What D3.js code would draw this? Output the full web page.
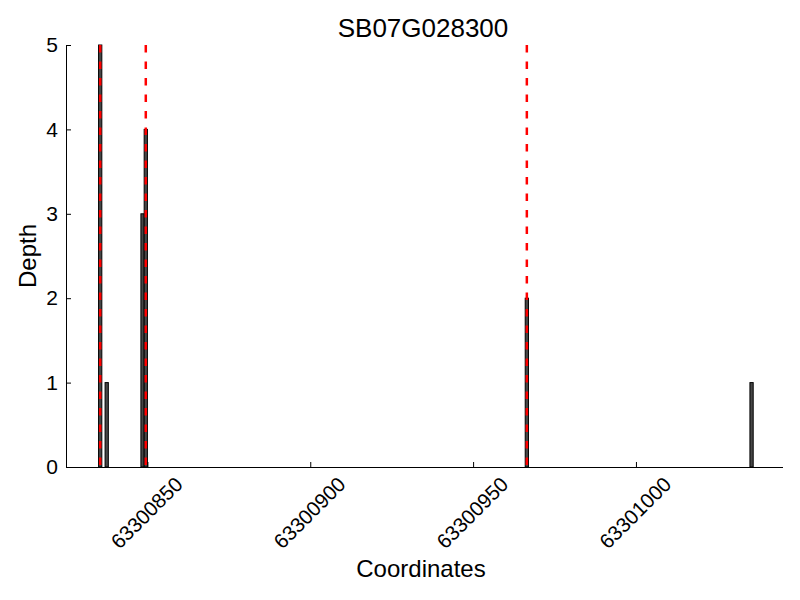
<!DOCTYPE html>
<html><head><meta charset="utf-8">
<script src="https://cdn.jsdelivr.net/npm/d3@7"></script>
<style>body{margin:0;background:#fff}svg{display:block}text{font-family:"Liberation Sans",Arial,sans-serif;fill:#000}</style>
</head><body><svg id="c" width="800" height="600"></svg>
<script>
const title = "SB07G028300";
const positions = [63300835, 63300837, 63300848, 63300849, 63300966, 63301035];
const depths = [5, 1, 3, 4, 2, 1];
const markers = [63300835, 63300849, 63300966];
const xTicks = [63300850, 63300900, 63300950, 63301000];
const yTicks = [0, 1, 2, 3, 4, 5];
const xDomain = [63300825, 63301045];
const yDomain = [0, 5];

const svg = d3.select("#c");
const L = 66, R = 782.5, T = 45, B = 467;
const x = d3.scaleLinear().domain(xDomain).range([L, R]);
const y = d3.scaleLinear().domain(yDomain).range([B, T]);

// bars
svg.append("g").selectAll("rect").data(positions).join("rect")
  .attr("x", d => x(d)).attr("width", d => x(d + 1) - x(d))
  .attr("y", (d, i) => y(depths[i])).attr("height", (d, i) => y(0) - y(depths[i]))
  .attr("fill", "#474747").attr("stroke", "#000").attr("stroke-width", 1);

// red dashed lines
svg.append("g").selectAll("line").data(markers).join("line")
  .attr("x1", d => x(d + 0.5)).attr("x2", d => x(d + 0.5))
  .attr("y1", y(5)).attr("y2", y(0))
  .attr("stroke", "#ff0000").attr("stroke-width", 2.5).attr("stroke-dasharray", "7.5,9");

// y axis
const ya = svg.append("g").attr("transform", `translate(${L},0)`)
  .call(d3.axisLeft(y).tickValues(yTicks).tickSize(-5).tickSizeOuter(0).tickPadding(8).tickFormat(d3.format("d")));
ya.select(".domain").attr("stroke", "#000");
ya.selectAll("text").attr("font-size", 21);

// x axis
const xa = svg.append("g").attr("transform", `translate(0,${B})`)
  .call(d3.axisBottom(x).tickValues(xTicks).tickSize(-5).tickSizeOuter(0).tickFormat(d3.format("d")));
xa.select(".domain").attr("stroke", "#000");
xa.selectAll("text")
  .attr("font-size", 20.5)
  .attr("text-anchor", "middle").attr("dy", null).attr("y", null)
  .attr("dominant-baseline", "middle")
  .attr("transform", "translate(0,47) rotate(-45)");

// titles
svg.append("text").attr("x", 423).attr("y", 37).attr("text-anchor", "middle").attr("font-size", 26).text(title);
svg.append("text").attr("x", 421).attr("y", 577).attr("text-anchor", "middle").attr("font-size", 24).text("Coordinates");
svg.append("text").attr("transform", `translate(36,${(T + B) / 2}) rotate(-90)`).attr("text-anchor", "middle").attr("font-size", 24).text("Depth");
</script></body></html>
